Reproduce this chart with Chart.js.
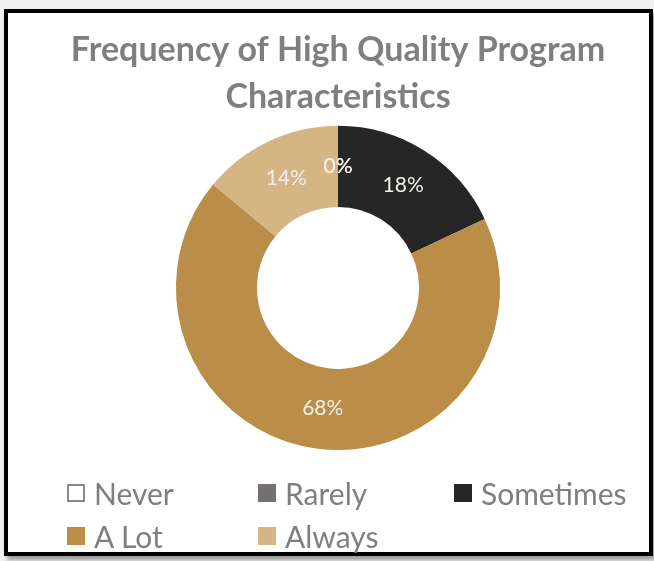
<!DOCTYPE html>
<html>
<head>
<meta charset="utf-8">
<script src="https://cdn.jsdelivr.net/npm/chart.js@4.4.1/dist/chart.umd.min.js"></script>
<style>
  html, body { margin: 0; padding: 0; background: #f0f0f0; }
  #frame {
    position: absolute; left: 4px; top: 9px;
    width: 641px; height: 539px;
    border: 4px solid #000; background: #fff;
    box-shadow: 3px 4px 4px rgba(0,0,0,0.35);
  }
  #wrap { position: absolute; left: 0; top: 0; width: 640px; height: 460px; }
  #legend { position: absolute; left: 0; top: 0; width: 641px; height: 539px; pointer-events: none;
    font-family: Lato, sans-serif; font-size: 30px; color: #7f7f7f; }
  .item { position: absolute; display: flex; align-items: center; height: 36px; line-height: 36px; }
  .item span.box { width: 18px; height: 18px; box-sizing: border-box; margin-right: 9px; }
</style>
</head>
<body>
<div id="frame">
  <div id="wrap"><canvas id="chart"></canvas></div>
  <div id="legend"></div>
</div>
<script>
document.addEventListener("DOMContentLoaded", () => {

    /* ============================
       DATOS
    ============================ */
    const categories = ["Never", "Rarely", "Sometimes", "A Lot", "Always"];
    const percents = [0, 0, 18, 68, 14];
    const sliceColors = ["#ffffff", "#767171", "#262626", "#ba8e48", "#d5b584"];
    const titleLines = ["Frequency of High Quality Program", "Characteristics"];

    /* ============================
       ETIQUETAS DE DATOS
    ============================ */
    const sliceLabels = {
        id: "sliceLabels",
        afterDatasetsDraw(chart) {
            const ctx = chart.ctx;
            const meta = chart.getDatasetMeta(0);
            ctx.save();
            ctx.font = "21px Lato, sans-serif";
            ctx.fillStyle = "#f2efe8";
            ctx.textAlign = "center";
            ctx.textBaseline = "middle";
            meta.data.forEach((arc, i) => {
                const p = arc.tooltipPosition();
                ctx.fillText(percents[i] + "%", p.x, p.y);
            });
            ctx.restore();
        }
    };

    const ctx = document.getElementById("chart");
    new Chart(ctx, {
        type: "doughnut",
        data: {
            labels: categories,
            datasets: [{
                data: percents,
                backgroundColor: sliceColors,
                borderWidth: 0
            }]
        },
        options: {
            responsive: true,
            maintainAspectRatio: false,
            animation: false,
            cutout: "50%",
            layout: { padding: { left: 20, right: 0, top: 0, bottom: 23 } },
            plugins: {
                legend: { display: false },
                tooltip: { enabled: false },
                title: {
                    display: true,
                    text: titleLines,
                    color: "#7f7f7f",
                    font: { family: "Lato", size: 34, weight: "bold", lineHeight: 1.38 },
                    padding: { top: 14, bottom: 5 }
                }
            }
        },
        plugins: [sliceLabels]
    });

    /* ============================
       LEYENDA
    ============================ */
    const legendPos = [[59, 462], [250, 462], [446, 462], [59, 505], [250, 505]];
    const legend = document.getElementById("legend");
    categories.forEach((name, i) => {
        const item = document.createElement("div");
        item.className = "item";
        item.style.left = legendPos[i][0] + "px";
        item.style.top = legendPos[i][1] + "px";
        const box = document.createElement("span");
        box.className = "box";
        box.style.background = sliceColors[i];
        if (i === 0) box.style.border = "2px solid #8a8a8a";
        item.appendChild(box);
        item.appendChild(document.createTextNode(name));
        legend.appendChild(item);
    });
});
</script>
</body>
</html>
